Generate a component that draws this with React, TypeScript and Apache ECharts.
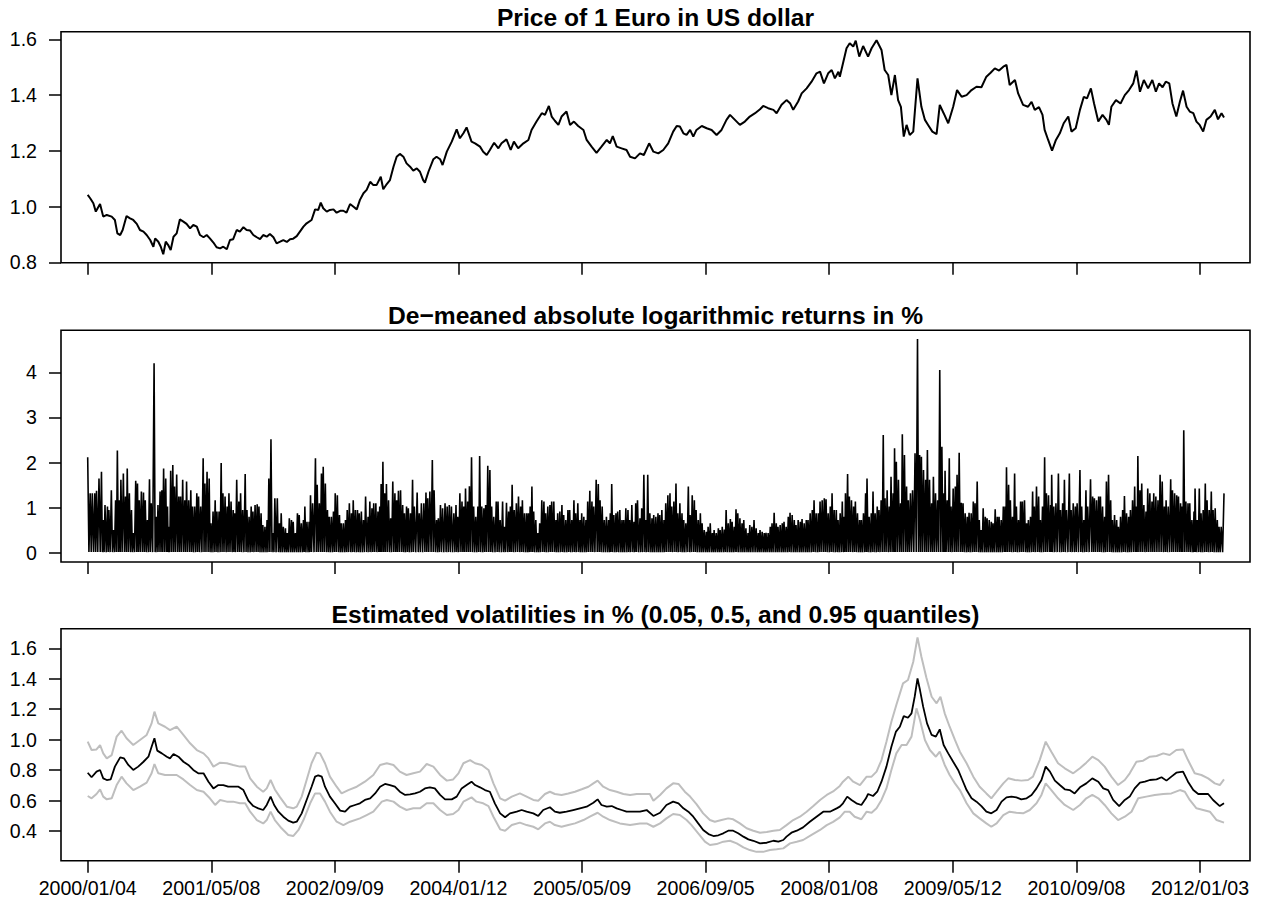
import React, { useEffect, useRef } from 'react';
import * as echarts from 'echarts';

// x axis: trading-day index since 2000/01/04
const tickDays = [0, 350, 700, 1050, 1400, 1750, 2100, 2450, 2800, 3150];
const tickDates = ['2000/01/04', '2001/05/08', '2002/09/09', '2004/01/12', '2005/05/09', '2006/09/05', '2008/01/08', '2009/05/12', '2010/09/08', '2012/01/03'];

const priceTicks = [0.8, 1.0, 1.2, 1.4, 1.6];
const returnTicks = [0, 1, 2, 3, 4];
const volTicks = [0.4, 0.6, 0.8, 1.0, 1.2, 1.4, 1.6];

const titles = [
  'Price of 1 Euro in US dollar',
  'De\u2212meaned absolute logarithmic returns in %',
  'Estimated volatilities in % (0.05, 0.5, and 0.95 quantiles)',
];

// Price of 1 Euro in USD: [day, price]
const price: [number, number][] = [
  [0,1.042],[7,1.030],[16,1.012],[23,0.982],[35,1.009],[44,0.964],[54,0.970],[68,0.964],[77,0.952],[84,0.904],[92,0.898],[99,0.916],[110,0.966],[120,0.958],[129,0.952],[139,0.938],[148,0.916],[158,0.910],[167,0.898],[177,0.880],[186,0.856],[191,0.886],[200,0.874],[207,0.856],[214,0.829],[221,0.874],[228,0.862],[235,0.844],[243,0.892],[252,0.904],[261,0.954],[271,0.946],[280,0.938],[290,0.922],[299,0.934],[309,0.928],[318,0.898],[328,0.890],[337,0.898],[346,0.886],[356,0.871],[365,0.854],[375,0.850],[384,0.856],[394,0.847],[403,0.880],[412,0.883],[422,0.916],[431,0.910],[441,0.926],[450,0.916],[460,0.914],[469,0.898],[479,0.890],[488,0.883],[497,0.898],[507,0.892],[516,0.902],[526,0.890],[535,0.868],[545,0.874],[554,0.880],[564,0.873],[573,0.883],[582,0.885],[592,0.894],[601,0.910],[611,0.928],[620,0.940],[634,0.952],[644,0.990],[653,0.988],[660,1.014],[667,0.994],[677,0.982],[686,0.988],[696,0.990],[705,0.978],[715,0.985],[724,0.985],[733,0.978],[743,1.009],[752,1.000],[762,0.990],[771,1.024],[781,1.048],[790,1.060],[800,1.089],[809,1.077],[818,1.077],[830,1.107],[837,1.062],[847,1.081],[856,1.095],[866,1.143],[875,1.179],[884,1.189],[894,1.179],[903,1.155],[913,1.143],[922,1.129],[932,1.137],[941,1.125],
  [950,1.095],[955,1.086],[965,1.125],[979,1.170],[988,1.179],[998,1.170],[1005,1.149],[1017,1.197],[1031,1.233],[1045,1.277],[1054,1.245],[1064,1.263],[1073,1.284],[1087,1.233],[1097,1.227],[1111,1.215],[1120,1.197],[1130,1.185],[1139,1.203],[1151,1.229],[1163,1.209],[1172,1.227],[1186,1.241],[1198,1.203],[1207,1.233],[1219,1.209],[1234,1.227],[1248,1.239],[1257,1.275],[1271,1.305],[1286,1.335],[1295,1.329],[1306,1.361],[1314,1.323],[1323,1.308],[1333,1.293],[1342,1.323],[1356,1.341],[1366,1.293],[1377,1.305],[1389,1.289],[1404,1.275],[1413,1.239],[1427,1.215],[1441,1.193],[1455,1.215],[1470,1.239],[1479,1.227],[1487,1.253],[1498,1.215],[1512,1.209],[1526,1.203],[1536,1.179],[1550,1.173],[1564,1.191],[1575,1.185],[1590,1.227],[1602,1.197],[1616,1.191],[1630,1.203],[1644,1.227],[1658,1.269],[1668,1.289],[1677,1.287],[1687,1.263],[1696,1.257],[1706,1.275],[1715,1.251],[1724,1.275],[1739,1.289],[1753,1.281],[1767,1.275],[1781,1.257],[1795,1.275],[1809,1.311],[1819,1.329],[1833,1.311],[1847,1.293],[1861,1.305],[1875,1.323],[1890,1.335],[1904,1.349],[1913,1.361],[1927,1.353],[1942,1.347],[1951,1.335],[1965,1.365],[1979,1.382],[1989,1.371],[1998,1.347],[2012,1.377],[2022,1.406],[2036,1.424],[2050,1.448],[2064,1.478],[2074,1.484],[2085,1.442],[2097,1.478],[2107,1.490],[2116,1.460],[2126,1.484],
  [2130,1.466],[2139,1.514],[2149,1.568],[2158,1.586],[2168,1.574],[2175,1.595],[2185,1.538],[2196,1.576],[2210,1.538],[2220,1.568],[2234,1.597],[2248,1.562],[2257,1.490],[2267,1.472],[2276,1.400],[2286,1.472],[2295,1.382],[2303,1.358],[2311,1.251],[2319,1.293],[2328,1.257],[2338,1.269],[2350,1.460],[2361,1.358],[2371,1.311],[2380,1.293],[2392,1.269],[2404,1.260],[2413,1.365],[2424,1.335],[2437,1.299],[2451,1.358],[2462,1.418],[2475,1.394],[2489,1.400],[2503,1.418],[2517,1.430],[2531,1.428],[2545,1.466],[2557,1.480],[2569,1.496],[2581,1.488],[2593,1.502],[2602,1.508],[2611,1.436],[2626,1.454],[2635,1.406],[2649,1.365],[2663,1.358],[2673,1.376],[2682,1.347],[2694,1.357],[2704,1.329],[2710,1.275],[2720,1.239],[2731,1.201],[2742,1.239],[2753,1.263],[2764,1.299],[2777,1.323],[2786,1.269],[2798,1.281],[2810,1.347],[2821,1.394],[2830,1.388],[2841,1.424],[2850,1.370],[2862,1.305],[2874,1.329],[2885,1.311],[2892,1.293],[2899,1.358],[2912,1.382],[2925,1.370],[2937,1.400],[2949,1.418],[2961,1.442],[2970,1.488],[2980,1.412],[2991,1.454],[3003,1.424],[3015,1.454],[3025,1.412],[3034,1.442],[3044,1.428],[3053,1.448],[3063,1.442],[3072,1.370],[3083,1.323],[3093,1.376],[3102,1.416],[3112,1.358],[3121,1.341],[3131,1.335],[3140,1.305],[3149,1.293],[3159,1.269],[3168,1.311],[3180,1.323],[3192,1.347],[3201,1.313],[3211,1.335],[3218,1.320],
];

// De-meaned absolute log returns: local peaks [day, %]
const returnPeaks: [number, number][] = [
  [0,2.12],[7,1.32],[13,1.32],[20,1.32],[25,1.38],[32,1.65],[39,1.80],[44,0.73],[49,1.06],[56,1.03],[60,0.95],[67,1.39],[73,0.51],[79,1.17],[84,2.27],[90,1.17],[94,1.62],[101,1.76],[107,1.25],[112,1.87],[118,1.32],[124,0.95],[129,0.44],[136,1.60],[141,1.54],[146,1.17],[152,1.36],[158,1.34],[163,1.17],[169,0.73],[175,1.63],[180,1.10],[188,4.20],[194,0.80],[199,1.06],[205,1.36],[210,1.39],[215,1.87],[221,1.65],[226,1.03],[230,0.58],[235,1.82],[241,1.95],[246,1.47],[252,1.74],[258,1.25],[263,1.25],[269,1.62],[275,1.17],[280,1.58],[286,1.17],[292,1.39],[297,1.03],[303,1.03],[309,1.32],[314,1.25],[320,1.03],[327,2.10],[332,1.54],[338,1.80],[344,1.65],[349,0.66],[355,0.92],[361,1.17],[366,0.92],[372,0.92],[378,1.99],[383,1.32],[389,1.25],[395,1.03],[400,1.32],[406,1.14],[412,0.95],[416,0.88],[422,1.62],[428,1.14],[433,1.32],[439,0.95],[446,1.75],[451,0.95],[457,0.80],[463,1.03],[468,0.92],[474,1.06],[480,1.08],[485,1.03],[491,0.88],[496,0.62],[502,0.58],[508,0.73],[513,1.65],[519,2.52],[525,0.44],[530,1.21],[537,1.21],[543,0.66],[548,0.88],[554,0.58],[560,0.55],[565,0.44],[571,0.77],[577,0.73],[582,0.69],[588,0.44],[594,0.88],[599,0.84],[605,0.66],[611,0.73],[615,1.03],[621,0.69],[627,0.69],[631,1.28],[637,1.10],[645,2.10],[650,1.51],[656,1.10],[662,1.76],[667,1.91],[673,1.54],[679,0.95],[684,0.80],[690,0.80],[696,0.92],[701,1.32],[707,1.28],[713,0.84],[718,0.66],[724,0.66],[730,0.73],[735,0.95],[741,1.10],[747,0.88],[752,1.17],[758,0.95],[764,0.95],[769,0.88],[775,0.92],[781,0.73],[787,1.25],[794,0.80],
  [799,1.14],[805,0.99],[810,1.10],[816,1.10],[822,0.92],[827,1.03],[831,1.53],[836,2.02],[841,1.32],[846,1.53],[852,1.17],[858,0.77],[864,1.58],[870,1.32],[875,1.17],[880,1.38],[886,1.39],[892,1.06],[897,0.88],[903,1.03],[908,0.99],[914,0.88],[920,1.62],[925,1.03],[933,1.34],[939,0.88],[945,1.10],[952,1.10],[958,1.34],[963,1.21],[969,1.36],[976,2.06],[981,1.39],[988,0.73],[993,0.77],[999,1.06],[1005,0.99],[1012,1.10],[1018,1.03],[1024,1.06],[1030,1.03],[1037,0.88],[1043,1.06],[1048,0.80],[1054,1.32],[1060,1.14],[1065,1.03],[1070,1.43],[1076,1.14],[1081,1.48],[1087,2.12],[1093,1.03],[1099,0.80],[1105,1.03],[1110,2.15],[1116,1.03],[1122,0.99],[1127,1.06],[1133,1.93],[1139,1.84],[1144,1.03],[1150,0.80],[1157,1.14],[1162,1.14],[1168,0.73],[1175,1.14],[1180,0.58],[1186,1.11],[1192,0.92],[1197,1.03],[1202,1.51],[1208,0.95],[1214,1.10],[1220,1.25],[1226,1.03],[1231,1.17],[1237,0.88],[1243,0.88],[1248,0.88],[1253,1.03],[1258,1.47],[1263,0.92],[1269,0.73],[1275,0.44],[1280,0.66],[1286,1.17],[1292,1.14],[1297,0.88],[1303,1.03],[1309,1.06],[1314,1.14],[1320,1.14],[1326,0.73],[1331,0.88],[1337,0.92],[1343,1.06],[1348,0.84],[1354,0.73],[1360,0.95],[1365,0.95],[1371,0.73],[1377,1.17],[1382,0.88],[1388,1.10],[1394,0.73],[1399,0.88],[1405,0.80],[1411,0.73],[1416,1.14],[1422,1.38],[1428,1.14],[1433,1.03],[1440,1.62],[1446,1.53],[1451,1.17],[1457,1.03],[1463,0.73],[1469,0.80],[1475,0.73],[1480,0.88],[1484,1.53],[1490,0.84],[1496,0.88],[1501,0.92],[1507,0.95],[1513,0.73],[1518,0.73],[1524,0.99],[1530,0.95],[1535,0.73],[1541,1.06],[1547,0.69],[1552,1.10],[1557,1.17],[1564,0.77],[1569,0.99],[1575,1.73],[1581,0.73],[1586,1.73],[1592,0.88],[1598,0.77],[1603,0.84],
  [1609,0.80],[1615,0.88],[1620,0.84],[1626,0.95],[1632,0.73],[1637,1.10],[1643,1.28],[1649,1.32],[1654,1.03],[1660,1.14],[1666,1.54],[1671,0.88],[1677,1.10],[1683,0.88],[1688,0.73],[1694,0.66],[1701,1.47],[1706,0.84],[1712,1.28],[1718,1.17],[1723,0.95],[1729,0.73],[1735,0.88],[1740,0.66],[1746,0.51],[1752,0.47],[1757,0.58],[1763,0.66],[1769,0.44],[1774,0.51],[1780,0.44],[1786,0.55],[1791,0.51],[1797,0.58],[1803,0.52],[1808,0.95],[1814,0.66],[1820,0.75],[1825,0.69],[1831,0.58],[1836,0.97],[1841,0.88],[1847,0.77],[1853,0.66],[1858,0.73],[1864,0.55],[1870,0.44],[1875,0.62],[1881,0.58],[1887,0.73],[1893,0.55],[1899,0.44],[1904,0.51],[1910,0.47],[1916,0.44],[1921,0.45],[1927,0.44],[1933,0.58],[1938,0.66],[1944,0.89],[1950,0.66],[1955,0.58],[1961,0.62],[1967,0.66],[1972,0.69],[1978,0.58],[1984,0.80],[1989,0.89],[1995,0.84],[2001,0.73],[2006,0.62],[2012,0.73],[2018,0.69],[2023,0.75],[2029,0.66],[2035,0.73],[2040,0.73],[2046,0.88],[2052,0.95],[2057,1.17],[2063,0.88],[2069,0.88],[2074,1.14],[2080,1.17],[2086,1.21],[2091,1.19],[2097,0.88],[2103,1.03],[2108,1.32],[2114,0.95],[2120,0.95],[2125,0.73],[2131,0.88],[2137,1.14],[2142,0.80],[2146,1.32],[2152,1.75],[2157,1.25],[2163,1.17],[2169,1.03],[2174,1.14],[2180,0.88],[2186,0.73],[2191,0.73],[2197,0.88],[2203,1.32],[2207,1.65],[2213,0.80],[2219,0.88],[2224,1.36],[2230,0.88],[2236,1.03],[2241,0.95],[2247,1.17],[2253,2.61],[2258,1.21],[2264,1.39],[2270,1.03],[2275,1.69],[2281,1.32],[2285,2.32],[2290,2.02],[2296,1.62],[2302,1.10],[2307,2.63],[2313,2.17],[2319,1.47],[2324,1.17],[2330,1.32],[2336,1.39],[2343,2.21],[2350,4.74],[2356,2.17],[2361,2.13],[2367,1.84],[2373,1.62],[2378,2.28],[2384,1.62],[2390,1.10],[2395,1.69],[2401,1.32],[2407,1.17],[2413,4.05],
  [2419,2.35],[2425,1.32],[2428,1.82],[2434,1.17],[2440,2.10],[2445,1.03],[2451,1.43],[2457,1.47],[2462,1.73],[2468,2.22],[2474,1.11],[2479,1.10],[2485,0.88],[2491,0.80],[2496,0.89],[2502,0.88],[2508,1.14],[2513,1.10],[2519,1.58],[2525,0.73],[2530,0.51],[2536,0.99],[2542,0.80],[2547,0.77],[2553,0.73],[2559,0.69],[2564,0.66],[2570,0.97],[2576,0.80],[2581,0.80],[2587,0.73],[2593,1.03],[2598,1.03],[2602,1.90],[2608,1.51],[2613,1.17],[2619,0.80],[2625,1.76],[2630,1.03],[2636,0.73],[2642,1.14],[2647,1.14],[2653,1.17],[2659,0.66],[2664,0.73],[2670,0.80],[2676,1.36],[2681,1.03],[2687,1.47],[2693,1.25],[2698,0.73],[2704,1.03],[2710,2.12],[2715,1.32],[2721,1.28],[2727,1.06],[2730,1.73],[2736,1.03],[2742,1.10],[2749,1.76],[2755,0.95],[2761,1.10],[2766,1.62],[2772,0.95],[2780,1.76],[2785,0.95],[2791,1.10],[2797,1.03],[2802,1.10],[2810,1.84],[2815,1.03],[2821,0.73],[2827,1.39],[2832,1.03],[2840,1.63],[2846,1.25],[2851,1.21],[2857,1.17],[2863,1.25],[2868,1.25],[2874,1.03],[2880,0.80],[2885,1.58],[2891,1.73],[2897,1.17],[2902,0.73],[2908,0.84],[2914,0.73],[2919,0.58],[2925,0.80],[2931,0.95],[2936,1.26],[2942,0.88],[2948,0.80],[2953,0.95],[2959,1.17],[2965,1.47],[2970,1.03],[2974,2.15],[2980,1.39],[2985,1.54],[2991,1.06],[2997,0.92],[3002,1.43],[3008,1.32],[3014,1.14],[3019,1.32],[3025,1.25],[3031,1.17],[3037,1.73],[3043,1.58],[3049,1.03],[3054,1.17],[3060,1.03],[3067,1.63],[3072,1.39],[3078,1.32],[3084,1.28],[3089,1.25],[3095,1.10],[3099,1.03],[3104,2.72],[3110,1.14],[3116,1.10],[3121,1.10],[3127,0.73],[3133,0.92],[3136,1.43],[3142,0.73],[3148,1.43],[3153,0.88],[3159,0.95],[3165,1.54],[3170,1.17],[3176,0.95],[3182,1.36],[3187,0.95],[3193,0.99],[3199,0.73],[3204,0.58],[3210,0.58],[3218,1.32],
];
// typical low level of the returns between peaks
const returnFloor = 0.02;

// Estimated volatility quantiles: [day, %]
const volMedian: [number, number][] = [
  [0,0.783],[11,0.753],[25,0.790],[35,0.801],[44,0.746],[54,0.735],[65,0.739],[77,0.823],[92,0.884],[103,0.877],[115,0.834],[129,0.801],[143,0.823],[158,0.855],[172,0.888],[181,0.954],[189,1.009],[197,0.928],[210,0.910],[224,0.888],[233,0.877],[243,0.906],[257,0.888],[271,0.855],[285,0.834],[299,0.801],[313,0.779],[328,0.779],[342,0.724],[356,0.680],[370,0.702],[384,0.702],[398,0.691],[412,0.691],[427,0.691],[441,0.669],[455,0.599],[469,0.564],[483,0.549],[497,0.538],[507,0.571],[518,0.626],[528,0.571],[540,0.527],[554,0.494],[568,0.468],[582,0.455],[592,0.461],[606,0.516],[620,0.604],[634,0.691],[644,0.757],[653,0.766],[663,0.757],[672,0.691],[686,0.626],[700,0.582],[715,0.534],[729,0.527],[743,0.560],[757,0.571],[771,0.582],[785,0.604],[800,0.615],[814,0.647],[828,0.691],[842,0.709],[856,0.702],[870,0.691],[884,0.658],[899,0.637],[913,0.641],[927,0.647],
  [941,0.658],[955,0.680],[969,0.687],[983,0.680],[998,0.637],[1012,0.608],[1031,0.608],[1045,0.626],[1059,0.680],[1073,0.702],[1087,0.724],[1097,0.702],[1111,0.687],[1125,0.669],[1139,0.658],[1153,0.582],[1168,0.516],[1182,0.490],[1196,0.516],[1215,0.527],[1229,0.538],[1243,0.527],[1262,0.516],[1276,0.499],[1290,0.538],[1309,0.556],[1323,0.527],[1337,0.520],[1356,0.527],[1375,0.538],[1394,0.549],[1413,0.560],[1432,0.586],[1444,0.608],[1455,0.571],[1470,0.560],[1484,0.564],[1498,0.549],[1512,0.538],[1526,0.527],[1545,0.527],[1564,0.527],[1583,0.538],[1602,0.499],[1621,0.520],[1639,0.571],[1658,0.593],[1673,0.582],[1687,0.549],[1701,0.527],[1715,0.494],[1729,0.450],[1743,0.407],[1758,0.380],[1772,0.367],[1786,0.372],[1800,0.385],[1814,0.402],[1828,0.402],[1842,0.385],[1857,0.363],[1871,0.345],[1885,0.336],[1904,0.319],[1923,0.323],[1942,0.336],[1956,0.330],[1970,0.341],[1979,0.363],[1993,0.389],[2008,0.402],[2026,0.424],[2045,0.461],[2064,0.494],[2083,0.527],[2102,0.527],[2121,0.549],
  [2130,0.560],[2139,0.582],[2151,0.626],[2163,0.604],[2177,0.582],[2191,0.571],[2204,0.615],[2210,0.643],[2224,0.630],[2236,0.658],[2248,0.724],[2262,0.823],[2276,0.954],[2289,1.053],[2300,1.085],[2311,1.155],[2323,1.144],[2333,1.173],[2342,1.282],[2350,1.403],[2357,1.326],[2366,1.217],[2377,1.107],[2390,1.031],[2402,1.020],[2413,1.068],[2424,0.965],[2437,0.910],[2451,0.855],[2465,0.801],[2477,0.735],[2489,0.669],[2503,0.615],[2517,0.593],[2531,0.564],[2545,0.527],[2559,0.516],[2574,0.538],[2588,0.593],[2602,0.621],[2616,0.626],[2630,0.621],[2644,0.608],[2659,0.615],[2673,0.637],[2687,0.680],[2701,0.735],[2713,0.823],[2725,0.790],[2739,0.731],[2753,0.702],[2767,0.674],[2781,0.669],[2795,0.647],[2810,0.687],[2828,0.713],[2845,0.746],[2862,0.724],[2876,0.680],[2890,0.669],[2904,0.604],[2921,0.564],[2937,0.604],[2951,0.626],[2965,0.680],[2980,0.718],[2994,0.724],[3008,0.735],[3027,0.739],[3041,0.753],[3055,0.731],[3069,0.757],[3083,0.783],[3102,0.790],[3116,0.724],[3131,0.669],[3145,0.643],[3159,0.643],[3173,0.643],[3187,0.604],[3206,0.564],[3218,0.582],
];

const volQ95: [number, number][] = [
  [0,0.987],[11,0.932],[25,0.936],[35,0.965],[44,0.910],[54,0.877],[68,0.899],[82,1.020],[96,1.059],[110,1.009],[129,0.965],[148,0.998],[167,1.031],[181,1.107],[189,1.184],[200,1.107],[219,1.085],[233,1.063],[252,1.085],[271,1.031],[290,0.976],[309,0.932],[328,0.910],[342,0.877],[356,0.823],[375,0.849],[394,0.845],[412,0.834],[431,0.823],[446,0.823],[460,0.746],[479,0.691],[497,0.658],[507,0.680],[518,0.735],[530,0.673],[545,0.621],[564,0.560],[582,0.549],[592,0.560],[606,0.626],[620,0.735],[634,0.845],[648,0.915],[658,0.910],[672,0.845],[686,0.757],[705,0.691],[719,0.647],[738,0.669],[762,0.691],[785,0.724],[809,0.768],[828,0.834],[847,0.845],[866,0.834],[884,0.790],[903,0.768],[922,0.779],
  [941,0.790],[960,0.840],[979,0.823],[998,0.768],[1017,0.731],[1035,0.739],[1050,0.779],[1064,0.845],[1083,0.866],[1097,0.845],[1116,0.834],[1135,0.801],[1149,0.713],[1168,0.615],[1182,0.599],[1201,0.626],[1224,0.647],[1243,0.626],[1262,0.604],[1276,0.599],[1295,0.643],[1309,0.658],[1323,0.643],[1342,0.637],[1361,0.647],[1380,0.658],[1399,0.674],[1418,0.691],[1432,0.713],[1444,0.731],[1460,0.691],[1479,0.669],[1498,0.658],[1517,0.643],[1536,0.637],[1555,0.643],[1573,0.643],[1592,0.643],[1602,0.599],[1621,0.637],[1639,0.680],[1658,0.713],[1673,0.709],[1691,0.658],[1706,0.626],[1724,0.577],[1743,0.516],[1762,0.472],[1776,0.461],[1795,0.472],[1814,0.483],[1828,0.477],[1847,0.450],[1866,0.418],[1885,0.402],[1904,0.389],[1923,0.393],[1942,0.402],[1960,0.407],[1979,0.439],[1998,0.472],[2017,0.494],[2036,0.527],[2055,0.564],[2074,0.604],[2093,0.637],[2111,0.660],
  [2130,0.696],[2139,0.724],[2154,0.757],[2168,0.724],[2187,0.702],[2206,0.757],[2220,0.757],[2234,0.790],[2248,0.866],[2262,0.987],[2276,1.118],[2290,1.228],[2309,1.370],[2323,1.392],[2338,1.512],[2350,1.672],[2361,1.545],[2375,1.409],[2390,1.282],[2404,1.239],[2415,1.282],[2427,1.173],[2441,1.085],[2456,0.998],[2470,0.921],[2489,0.845],[2508,0.757],[2526,0.691],[2545,0.647],[2559,0.615],[2574,0.658],[2593,0.713],[2607,0.746],[2626,0.735],[2644,0.731],[2663,0.735],[2677,0.757],[2696,0.866],[2713,0.987],[2729,0.921],[2748,0.845],[2767,0.812],[2791,0.779],[2810,0.812],[2828,0.849],[2845,0.888],[2862,0.866],[2880,0.823],[2899,0.757],[2918,0.702],[2937,0.735],[2951,0.779],[2970,0.855],[2989,0.862],[3008,0.888],[3027,0.893],[3046,0.910],[3064,0.899],[3083,0.932],[3102,0.936],[3116,0.866],[3135,0.779],[3154,0.768],[3173,0.746],[3192,0.713],[3206,0.702],[3218,0.739],
];

const volQ05: [number, number][] = [
  [0,0.630],[11,0.615],[25,0.643],[35,0.674],[44,0.626],[54,0.608],[68,0.615],[82,0.702],[96,0.757],[110,0.713],[129,0.669],[148,0.691],[167,0.718],[181,0.779],[189,0.840],[200,0.779],[219,0.768],[238,0.768],[252,0.768],[271,0.739],[290,0.702],[309,0.669],[328,0.658],[346,0.615],[361,0.571],[375,0.604],[394,0.593],[412,0.593],[431,0.582],[446,0.582],[460,0.527],[479,0.472],[497,0.450],[507,0.472],[518,0.527],[530,0.472],[549,0.418],[568,0.374],[582,0.367],[597,0.407],[611,0.472],[630,0.582],[644,0.647],[658,0.647],[672,0.593],[686,0.527],[705,0.461],[724,0.439],[743,0.461],[771,0.483],[790,0.505],[809,0.527],[833,0.593],[847,0.604],[866,0.593],[884,0.560],[903,0.538],[922,0.549],
  [941,0.549],[960,0.582],[979,0.582],[998,0.538],[1017,0.505],[1035,0.512],[1050,0.538],[1064,0.593],[1087,0.621],[1101,0.593],[1120,0.582],[1135,0.564],[1149,0.494],[1168,0.411],[1182,0.402],[1201,0.439],[1224,0.455],[1243,0.439],[1262,0.428],[1276,0.411],[1295,0.450],[1309,0.461],[1323,0.439],[1342,0.428],[1361,0.439],[1380,0.450],[1404,0.472],[1422,0.494],[1444,0.520],[1460,0.494],[1479,0.472],[1507,0.450],[1536,0.439],[1564,0.450],[1583,0.450],[1602,0.428],[1621,0.450],[1639,0.483],[1658,0.512],[1677,0.505],[1696,0.472],[1710,0.439],[1729,0.385],[1748,0.330],[1762,0.308],[1781,0.314],[1800,0.330],[1819,0.336],[1838,0.319],[1857,0.293],[1875,0.275],[1894,0.263],[1913,0.263],[1932,0.275],[1951,0.280],[1970,0.286],[1989,0.319],[2008,0.330],[2026,0.341],[2050,0.374],[2074,0.407],[2093,0.439],[2111,0.460],
  [2130,0.490],[2144,0.527],[2158,0.527],[2172,0.494],[2191,0.477],[2206,0.527],[2220,0.520],[2234,0.549],[2248,0.604],[2262,0.680],[2276,0.801],[2290,0.910],[2305,0.965],[2319,0.965],[2333,1.020],[2347,1.206],[2357,1.129],[2371,0.998],[2385,0.932],[2402,0.888],[2413,0.921],[2427,0.834],[2441,0.768],[2456,0.713],[2470,0.669],[2489,0.582],[2508,0.516],[2526,0.483],[2545,0.450],[2559,0.428],[2574,0.450],[2593,0.505],[2611,0.527],[2630,0.520],[2649,0.516],[2668,0.538],[2687,0.582],[2701,0.637],[2713,0.713],[2729,0.669],[2748,0.615],[2767,0.571],[2791,0.538],[2810,0.571],[2828,0.615],[2845,0.637],[2862,0.615],[2880,0.571],[2899,0.516],[2918,0.472],[2937,0.494],[2956,0.527],[2975,0.615],[2998,0.626],[3022,0.637],[3046,0.643],[3069,0.647],[3093,0.669],[3107,0.658],[3121,0.604],[3140,0.549],[3159,0.538],[3178,0.527],[3197,0.472],[3218,0.455],
];

const FONT = '"Liberation Sans", Arial, Helvetica, sans-serif';
const X_MIN = -75.6;
const X_MAX = 3291.6;

function zigzag(peaks: [number, number][], floor: number): [number, number][] {
  const out: [number, number][] = [];
  for (let i = 0; i < peaks.length; i++) {
    out.push(peaks[i]);
    if (i < peaks.length - 1) out.push([(peaks[i][0] + peaks[i + 1][0]) / 2, floor]);
  }
  return out;
}

export default function App() {
  const ref = useRef<HTMLDivElement>(null);

  useEffect(() => {
    if (!ref.current) return;
    const chart = echarts.init(ref.current, undefined, { renderer: 'svg' });

    const gridDefs = [
      { top: 31.7, height: 231 },
      { top: 330.3, height: 231.7 },
      { top: 628.7, height: 232 },
    ];
    const yDefs = [
      { min: 0.7987, max: 1.6274, ticks: priceTicks, fmt: (v: number) => v.toFixed(1) },
      { min: -0.199, max: 4.93, ticks: returnTicks, fmt: (v: number) => String(Math.round(v)) },
      { min: 0.205, max: 1.729, ticks: volTicks, fmt: (v: number) => v.toFixed(1) },
    ];
    const tickStyle = { color: '#000', width: 1.5 };

    const option: any = {
      animation: false,
      backgroundColor: '#fff',
      grid: gridDefs.map((g) => ({
        left: 61,
        width: 1189,
        top: g.top,
        height: g.height,
        show: true,
        borderColor: '#000',
        borderWidth: 1.6,
        backgroundColor: 'transparent',
        containLabel: false,
      })),
      xAxis: gridDefs.map((_, i) => ({
        gridIndex: i,
        type: 'value',
        position: 'bottom',
        min: X_MIN,
        max: X_MAX,
        axisLine: { show: false, onZero: false },
        splitLine: { show: false },
        axisTick: { show: true, customValues: tickDays, length: 12, inside: false, lineStyle: tickStyle },
        axisLabel: {
          show: i === 2,
          customValues: tickDays,
          formatter: (v: number) => {
            const k = tickDays.indexOf(Math.round(v));
            return k >= 0 ? tickDates[k] : '';
          },
          fontSize: 19.6,
          fontFamily: FONT,
          color: '#000',
          margin: 17,
        },
      })),
      yAxis: yDefs.map((y, i) => ({
        gridIndex: i,
        type: 'value',
        position: 'left',
        min: y.min,
        max: y.max,
        axisLine: { show: false, onZero: false },
        splitLine: { show: false },
        axisTick: { show: true, customValues: y.ticks, length: 12, inside: false, lineStyle: tickStyle },
        axisLabel: {
          customValues: y.ticks,
          formatter: y.fmt,
          fontSize: 19.6,
          fontFamily: FONT,
          color: '#000',
          margin: 24,
        },
      })),
      graphic: titles.map((t, i) => ({
        type: 'text',
        x: 655.5,
        y: [17.4, 315.5, 614.2][i],
        silent: true,
        style: {
          text: t,
          fontSize: 24.6,
          fontWeight: 'bold',
          fontFamily: FONT,
          fill: '#000',
          textAlign: 'center',
          textVerticalAlign: 'middle',
        },
      })),
      series: [
        {
          type: 'line',
          xAxisIndex: 0,
          yAxisIndex: 0,
          data: price,
          showSymbol: false,
          silent: true,
          lineStyle: { color: '#000', width: 2 },
        },
        {
          type: 'line',
          xAxisIndex: 1,
          yAxisIndex: 1,
          data: zigzag(returnPeaks, returnFloor),
          showSymbol: false,
          silent: true,
          lineStyle: { color: '#000', width: 1.6 },
        },
        {
          type: 'line',
          xAxisIndex: 2,
          yAxisIndex: 2,
          data: volQ95,
          showSymbol: false,
          silent: true,
          lineStyle: { color: '#BEBEBE', width: 2 },
        },
        {
          type: 'line',
          xAxisIndex: 2,
          yAxisIndex: 2,
          data: volQ05,
          showSymbol: false,
          silent: true,
          lineStyle: { color: '#BEBEBE', width: 2 },
        },
        {
          type: 'line',
          xAxisIndex: 2,
          yAxisIndex: 2,
          data: volMedian,
          showSymbol: false,
          silent: true,
          lineStyle: { color: '#000', width: 1.8 },
        },
      ],
    };

    chart.setOption(option);
    return () => chart.dispose();
  }, []);

  return (
    <div
      ref={ref}
      style={{ position: 'fixed', left: 0, top: 0, width: 1263, height: 901, background: '#fff' }}
    />
  );
}
